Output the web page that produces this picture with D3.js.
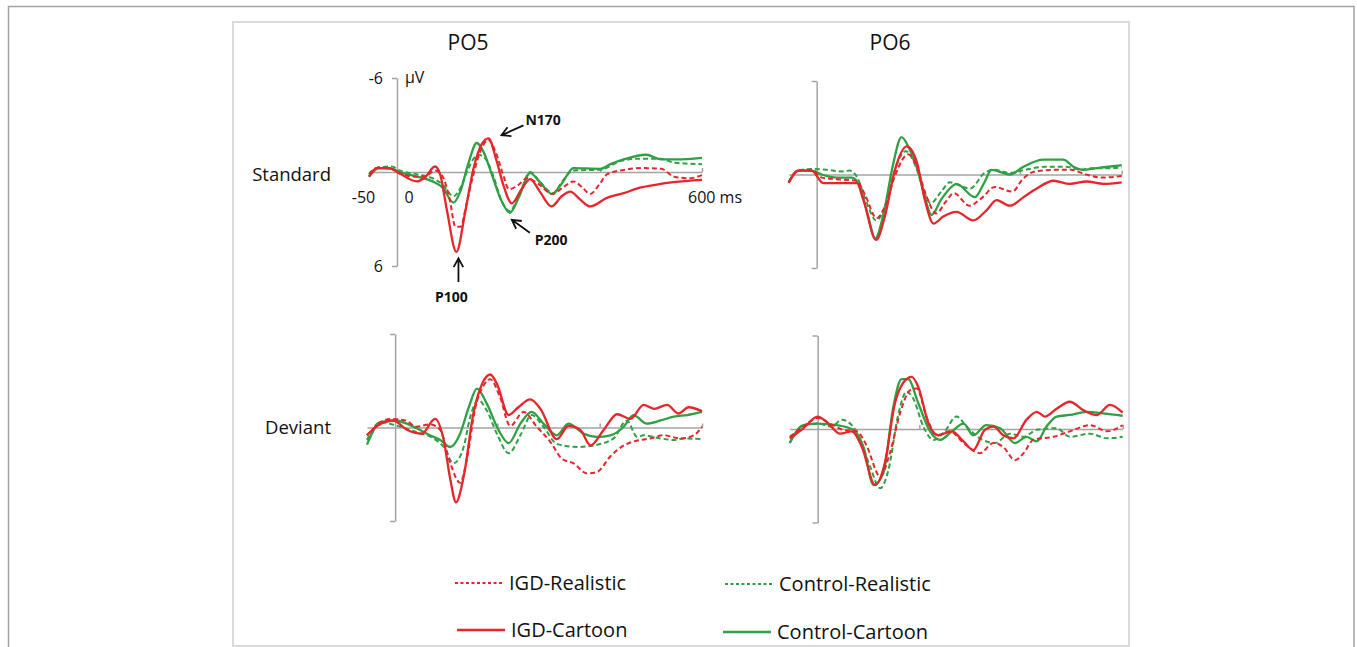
<!DOCTYPE html>
<html>
<head>
<meta charset="utf-8">
<script src="https://cdn.jsdelivr.net/npm/d3@7"></script>
<style>
body { margin: 0; background: #fff; }
svg { display: block; font-family: "Open Sans", sans-serif; }
</style>
</head>
<body>
<script>
// conditions, electrodes, row labels, tick labels
var conditions = ["IGD-Realistic", "IGD-Cartoon", "Control-Realistic", "Control-Cartoon"];
var electrodes = ["PO5", "PO6"];
var stimuli = ["Standard", "Deviant"];
var xTickValues = [-50, 0, 600];
var xTickLabels = ["-50", "0", "600 ms"];
var yTickValues = [-6, 6];
var yTickLabels = ["-6", "6"];
var yUnit = "\u00b5V";

// ERP waveforms, [ms, µV] (negative is up)
var po5StdIgdRealistic = [[-55,0.15],[-35,-0.3],[-10,-0.2],[5,0.1],[40,0.3],[60,0.2],[75,-0.1],[90,0.3],[104,1.8],[115,3.5],[125,3.5],[137,2.0],[150,0.2],[165,-1.4],[180,-2.05],[195,-1.2],[210,0.3],[220,1.1],[240,0.8],[255,0.4],[280,0.8],[305,1.4],[330,0.9],[347,0.6],[365,1.0],[380,1.4],[400,0.7],[413,0.15],[450,-0.15],[480,-0.25],[520,-0.2],[545,0.3],[575,0.4],[600,0.2]];
var po5StdIgdCartoon = [[-55,0.3],[-40,-0.25],[-15,-0.25],[3,0.05],[39,0.6],[55,0.35],[75,-0.35],[85,0.15],[98,2.4],[117,5.1],[134,2.6],[150,-0.15],[167,-1.8],[180,-2.15],[196,-0.7],[209,0.8],[226,2.0],[245,1.1],[262,0.45],[281,1.25],[304,2.2],[324,1.55],[341,1.25],[360,1.75],[380,2.2],[413,1.65],[446,1.35],[478,1.0],[511,0.8],[544,0.65],[600,0.5]];
var po5StdCtrlRealistic = [[-55,0.1],[-35,-0.3],[-10,-0.35],[5,-0.1],[40,0.15],[70,0.4],[90,0.8],[111,1.55],[125,1.0],[140,-0.2],[160,-1.1],[175,-0.8],[190,0.3],[205,1.8],[222,2.5],[240,1.5],[262,0.0],[280,0.6],[308,1.35],[325,0.6],[347,-0.1],[400,-0.15],[440,-0.7],[478,-0.85],[518,-0.85],[545,-0.6],[600,-0.5]];
var po5StdCtrlCartoon = [[-55,0.3],[-35,-0.25],[-10,-0.2],[5,0.0],[40,0.3],[70,0.6],[90,1.0],[111,1.95],[125,1.2],[140,-0.5],[157,-1.85],[170,-1.3],[185,0.0],[205,1.8],[222,2.6],[240,1.6],[262,0.05],[280,0.6],[305,1.4],[325,0.7],[347,-0.25],[400,-0.2],[420,-0.5],[446,-0.8],[490,-1.1],[520,-0.8],[550,-0.8],[600,-0.9]];

var po6StdIgdRealistic = [[-55,0.5],[-36,-0.25],[-10,-0.3],[10,0.2],[40,0.3],[79,0.4],[95,1.3],[118,2.8],[135,2.0],[155,0.0],[180,-1.3],[198,-0.4],[215,1.3],[235,2.5],[255,1.7],[270,1.2],[300,2.0],[325,1.5],[350,0.8],[385,1.1],[405,0.3],[430,-0.2],[470,-0.3],[500,-0.3],[530,0.0],[560,0.2],[600,0.1]];
var po6StdIgdCartoon = [[-55,0.55],[-36,-0.25],[-10,-0.25],[13,0.55],[79,0.55],[92,1.65],[117,4.2],[134,2.7],[154,-0.3],[177,-1.8],[197,-0.8],[213,1.65],[230,3.15],[249,2.7],[275,2.4],[308,2.95],[334,2.3],[354,1.65],[380,2.0],[407,1.45],[433,0.9],[466,0.4],[498,0.6],[531,0.45],[564,0.6],[600,0.5]];
var po6StdCtrlRealistic = [[-55,0.5],[-36,-0.25],[-10,-0.35],[20,-0.3],[50,-0.2],[65,-0.25],[80,0.2],[95,1.5],[117,2.95],[135,2.0],[155,-0.4],[175,-1.5],[195,-0.5],[210,1.0],[224,1.85],[245,1.1],[262,0.5],[280,0.7],[302,0.9],[330,-0.1],[350,-0.3],[380,-0.1],[410,-0.3],[450,-0.5],[490,-0.5],[520,-0.3],[540,-0.4],[570,-0.4],[600,-0.45]];
var po6StdCtrlCartoon = [[-55,0.5],[-36,-0.25],[-10,-0.25],[10,0.0],[40,0.2],[70,0.2],[85,0.8],[100,2.5],[115,4.1],[133,2.3],[150,-0.6],[167,-2.4],[183,-1.6],[200,-0.2],[213,1.5],[226,2.6],[245,1.6],[262,0.9],[275,0.6],[311,1.45],[330,0.5],[344,-0.3],[380,0.0],[407,-0.5],[446,-0.95],[485,-0.95],[505,-0.5],[525,-0.3],[560,-0.45],[600,-0.6]];

var po5DevIgdRealistic = [[-55,0.5],[-10,-0.55],[20,-0.45],[42,-0.05],[68,-0.2],[88,0.15],[108,2.3],[127,3.55],[140,2.1],[157,-1.3],[173,-2.7],[186,-3.1],[205,-1.95],[225,-0.1],[251,-1.0],[277,-0.05],[303,0.9],[326,2.0],[349,2.3],[375,2.95],[395,2.85],[421,1.85],[447,1.15],[466,0.9],[499,0.7],[525,0.5],[558,0.7],[584,0.5],[600,-0.05]];
var po5DevIgdCartoon = [[-55,0.5],[-33,-0.15],[-3,-0.45],[23,0.15],[52,0.4],[78,-0.55],[95,0.8],[108,3.35],[119,4.8],[134,3.15],[153,-0.9],[170,-2.8],[186,-3.4],[199,-2.8],[222,-0.8],[241,-1.3],[264,-1.8],[284,-1.2],[316,0.75],[339,-0.1],[362,0.15],[382,1.15],[408,0.15],[434,-0.85],[460,-0.55],[486,-1.45],[506,-1.2],[532,-1.45],[554,-0.9],[574,-1.3],[600,-1.05]];
var po5DevCtrlRealistic = [[-55,0.8],[-29,-0.35],[0,-0.15],[42,0.3],[75,0.7],[95,1.25],[114,2.3],[134,1.25],[147,-0.7],[163,-1.75],[179,-1.1],[199,0.4],[222,1.65],[245,0.5],[267,-0.8],[290,-0.05],[316,1.05],[356,1.25],[388,1.15],[427,0.7],[453,-0.45],[473,0.6],[486,0.5],[519,0.7],[545,0.8],[564,0.7],[600,0.75]];
var po5DevCtrlCartoon = [[-55,1.1],[-29,-0.35],[0,-0.45],[42,0.05],[68,0.5],[88,0.8],[108,1.25],[127,0.4],[144,-1.3],[160,-2.5],[179,-1.55],[202,0.15],[222,1.0],[245,-0.25],[267,-1.0],[290,-0.25],[316,0.5],[339,-0.25],[369,0.4],[395,0.6],[421,0.5],[447,-0.05],[466,-0.8],[492,-0.25],[519,-0.45],[545,-0.7],[571,-0.8],[600,-1.0]];

var po6DevIgdRealistic = [[-55,0.5],[-28,-0.15],[0,-0.7],[24,-0.35],[50,0.05],[77,0.15],[96,1.05],[123,3.05],[142,1.55],[162,-1.0],[182,-2.5],[195,-2.6],[214,-0.8],[234,0.4],[260,0.15],[287,0.9],[319,1.55],[346,0.9],[365,1.15],[388,2.0],[405,1.55],[424,0.7],[464,0.5],[496,0.15],[536,-0.25],[569,0.15],[600,-0.25]];
var po6DevIgdCartoon = [[-55,0.6],[-28,-0.05],[0,-0.8],[18,-0.45],[44,0.3],[67,0.15],[87,1.15],[113,3.6],[132,2.2],[152,-1.65],[169,-3.0],[185,-3.35],[198,-2.7],[218,-0.35],[237,0.4],[264,0.15],[287,0.8],[306,1.35],[329,0.05],[346,-0.15],[365,0.4],[385,0.6],[411,-0.6],[431,-1.1],[447,-0.8],[470,-1.3],[496,-1.75],[523,-1.2],[549,-0.9],[575,-1.55],[600,-1.05]];
var po6DevCtrlRealistic = [[-55,0.9],[-28,-0.25],[0,-0.35],[28,-0.15],[47,-0.6],[67,-0.25],[83,0.6],[103,2.4],[123,3.8],[139,2.65],[159,-1.0],[175,-2.4],[188,-1.95],[208,-0.15],[228,0.7],[250,0.15],[273,-0.8],[293,-0.15],[319,0.6],[349,0.9],[378,0.3],[405,0.5],[431,0.05],[470,-0.05],[496,0.5],[536,0.3],[569,0.6],[600,0.5]];
var po6DevCtrlCartoon = [[-55,0.9],[-28,-0.25],[0,-0.35],[37,-0.25],[70,0.05],[90,1.15],[110,3.6],[129,2.85],[149,-1.45],[165,-3.2],[178,-3.2],[198,-1.65],[221,0.15],[241,0.7],[264,0.15],[287,-0.35],[306,0.4],[332,-0.25],[359,-0.05],[388,0.9],[411,0.5],[431,0.8],[450,-0.15],[470,-0.8],[496,-0.9],[529,-1.1],[562,-1.0],[600,-0.85]];

// ERP component labels: name, ms, µV of the peak they point at
var peakNames = ["P100", "N170", "P200"];
var peakTimes = [117, 180, 222];
var peakValues = [5.1, -2.15, 2.6];

//begin script when window loads
window.onload = drawChart();

function drawChart(){

    var width = 1357,
        height = 647;

    var red = "#e5262a",
        green = "#2fa044";

    //line style per condition
    var condStyle = {
        "IGD-Realistic":     { color: red,   dash: "5,3", legendDash: "3,2.5" },
        "IGD-Cartoon":       { color: red,   dash: null,  legendDash: null },
        "Control-Realistic": { color: green, dash: "5,3", legendDash: "3,2.5" },
        "Control-Cartoon":   { color: green, dash: null,  legendDash: null }
    };
    //draw order: controls below, IGD on top
    var drawOrder = [2, 3, 0, 1];

    //panel layout
    var panels = [
        { electrode: 0, stim: 0, xRange: [369, 702],   yRange: [78, 266],
          series: [po5StdIgdRealistic, po5StdIgdCartoon, po5StdCtrlRealistic, po5StdCtrlCartoon], labels: true },
        { electrode: 1, stim: 0, xRange: [788.7, 1121.7], yRange: [81, 268],
          series: [po6StdIgdRealistic, po6StdIgdCartoon, po6StdCtrlRealistic, po6StdCtrlCartoon] },
        { electrode: 0, stim: 1, xRange: [367, 702],   yRange: [334, 521],
          series: [po5DevIgdRealistic, po5DevIgdCartoon, po5DevCtrlRealistic, po5DevCtrlCartoon] },
        { electrode: 1, stim: 1, xRange: [789.7, 1122.7], yRange: [335.5, 522.5],
          series: [po6DevIgdRealistic, po6DevIgdCartoon, po6DevCtrlRealistic, po6DevCtrlCartoon] }
    ];

    var svg = d3.select("body")
        .append("svg")
        .attr("width", width)
        .attr("height", height);

    //outer and inner frames
    svg.append("rect")
        .attr("x", 8.5).attr("y", 6.5)
        .attr("width", 1345.5).attr("height", 700)
        .attr("fill", "none")
        .attr("stroke", "#a3a3a3")
        .attr("stroke-width", 1.5);
    svg.append("rect")
        .attr("x", 233).attr("y", 22)
        .attr("width", 896).attr("height", 624)
        .attr("fill", "none")
        .attr("stroke", "#dadada")
        .attr("stroke-width", 2);

    //electrode titles
    svg.selectAll(".title")
        .data(electrodes)
        .enter()
        .append("text")
        .attr("class", "title")
        .attr("x", function(d, i){ return [468, 890][i]; })
        .attr("y", 49.5)
        .attr("text-anchor", "middle")
        .attr("font-size", 21)
        .attr("fill", "#111")
        .text(function(d){ return d; });

    //row labels
    svg.selectAll(".rowLabel")
        .data(stimuli)
        .enter()
        .append("text")
        .attr("class", "rowLabel")
        .attr("x", 331)
        .attr("y", function(d, i){ return [180.5, 433.5][i]; })
        .attr("text-anchor", "end")
        .attr("font-size", 18.5)
        .attr("fill", "#111")
        .text(function(d){ return d; });

    panels.forEach(function(p){

        var x = d3.scaleLinear().domain([-55, 600]).range(p.xRange);
        var y = d3.scaleLinear().domain([-6, 6]).range(p.yRange);

        var g = svg.append("g").attr("class", "panel");

        //x axis along zero
        var xAxis = g.append("g")
            .attr("transform", "translate(0," + y(0) + ")")
            .call(d3.axisTop(x)
                .tickValues([200, 400, 600])
                .tickSize(4)
                .tickSizeOuter(0)
                .tickFormat(""));

        //y axis at 0 ms
        var yAxis = g.append("g")
            .attr("transform", "translate(" + x(0) + ",0)")
            .call(d3.axisLeft(y)
                .tickValues(yTickValues)
                .tickSize(5)
                .tickSizeOuter(0)
                .tickPadding(9)
                .tickFormat(function(d, i){ return p.labels ? yTickLabels[i] : ""; }));

        [xAxis, yAxis].forEach(function(a){
            a.selectAll("path, line")
                .attr("stroke", "#a3a3a3")
                .attr("stroke-width", 1.5);
            a.selectAll("text")
                .attr("font-family", "Open Sans, sans-serif")
                .attr("font-size", 16)
                .attr("fill", "#111");
        });

        if (p.labels){
            //unit
            g.append("text")
                .attr("x", x(0) + 8)
                .attr("y", y(-6) + 5)
                .attr("font-size", 16)
                .attr("fill", "#111")
                .text(yUnit);

            //time labels
            g.selectAll(".xLabel")
                .data(xTickValues)
                .enter()
                .append("text")
                .attr("class", "xLabel")
                .attr("x", function(d, i){ return x(d) + [-8, 12, -14][i]; })
                .attr("y", y(0) + 30.5)
                .attr("text-anchor", function(d, i){ return i < 2 ? "middle" : "start"; })
                .attr("font-size", 16)
                .attr("fill", "#111")
                .text(function(d, i){ return xTickLabels[i]; });
        }

        var line = d3.line()
            .x(function(d){ return x(d[0]); })
            .y(function(d){ return y(d[1]); })
            .curve(d3.curveMonotoneX);

        g.selectAll(".wave")
            .data(drawOrder)
            .enter()
            .append("path")
            .attr("class", "wave")
            .attr("d", function(k){ return line(p.series[k]); })
            .attr("fill", "none")
            .attr("stroke", function(k){ return condStyle[conditions[k]].color; })
            .attr("stroke-width", function(k){ return condStyle[conditions[k]].dash ? 2.0 : 2.3; })
            .attr("stroke-dasharray", function(k){ return condStyle[conditions[k]].dash; })
            .attr("stroke-linejoin", "round");

        //component arrows on the first panel
        if (p.labels){
            var arrows = [
                { tip: [2, 6.5],  tail: [2, 30],   text: [-5, 50],  anchor: "middle" },
                { tip: [13, -3],  tail: [35, -13], text: [37, -13], anchor: "start" },
                { tip: [2, 7],    tail: [20, 20],  text: [25, 32],  anchor: "start" }
            ];
            peakNames.forEach(function(name, i){
                var px = x(peakTimes[i]), py = y(peakValues[i]);
                var a = arrows[i];
                var tx = px + a.tip[0], ty = py + a.tip[1];
                var sx = px + a.tail[0], sy = py + a.tail[1];
                var ang = Math.atan2(sy - ty, sx - tx);
                var h = 10, spread = 0.5;
                var path = d3.path();
                path.moveTo(sx, sy); path.lineTo(tx, ty);
                path.moveTo(tx + h * Math.cos(ang - spread), ty + h * Math.sin(ang - spread));
                path.lineTo(tx, ty);
                path.lineTo(tx + h * Math.cos(ang + spread), ty + h * Math.sin(ang + spread));
                g.append("path")
                    .attr("d", path.toString())
                    .attr("fill", "none")
                    .attr("stroke", "#111")
                    .attr("stroke-width", 1.8);
                g.append("text")
                    .attr("x", px + a.text[0])
                    .attr("y", py + a.text[1])
                    .attr("text-anchor", a.anchor)
                    .attr("font-size", 14)
                    .attr("font-weight", "bold")
                    .attr("fill", "#111")
                    .text(name);
            });
        }
    });

    //legend
    var legendPos = [
        { x: 455, y: 583 },
        { x: 457, y: 630 },
        { x: 725, y: 584 },
        { x: 723, y: 632 }
    ];
    var legend = svg.selectAll(".legend")
        .data(conditions)
        .enter()
        .append("g")
        .attr("class", "legend")
        .attr("transform", function(d, i){ return "translate(" + legendPos[i].x + "," + legendPos[i].y + ")"; });

    legend.append("line")
        .attr("x1", 0).attr("x2", 48)
        .attr("stroke", function(d){ return condStyle[d].color; })
        .attr("stroke-width", function(d){ return condStyle[d].legendDash ? 1.8 : 2.5; })
        .attr("stroke-dasharray", function(d){ return condStyle[d].legendDash; });

    legend.append("text")
        .attr("x", 54)
        .attr("y", 7)
        .attr("font-size", 20)
        .attr("fill", "#111")
        .text(function(d){ return d; });
}
</script>
</body>
</html>
